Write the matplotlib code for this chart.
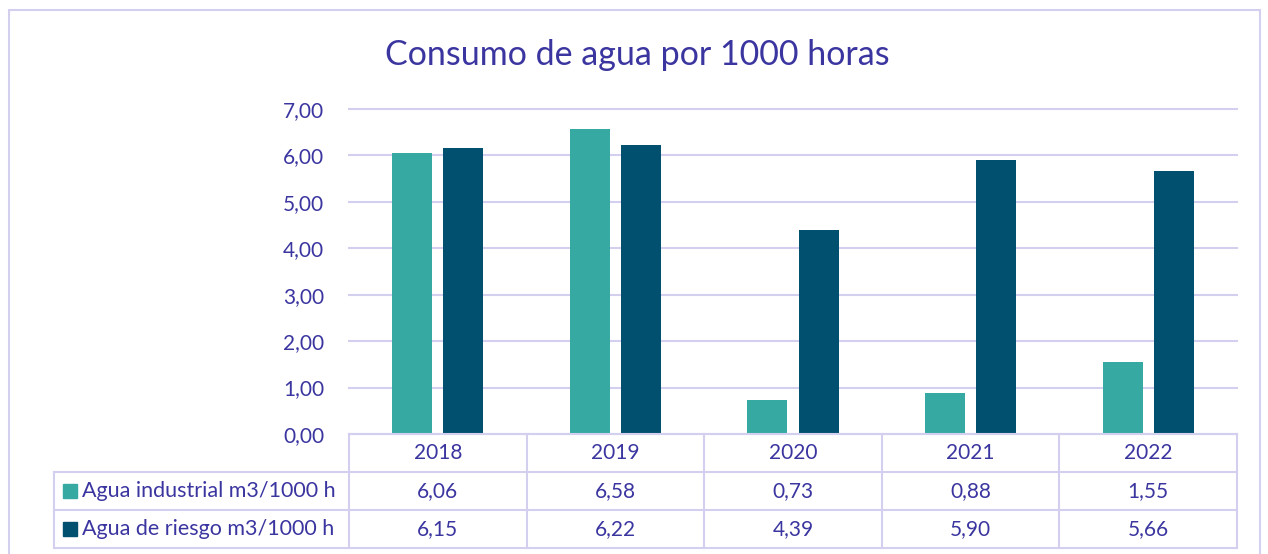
import matplotlib
matplotlib.use("Agg")
import matplotlib.pyplot as plt
from matplotlib.lines import Line2D
from matplotlib.patches import Rectangle

years = ["2018", "2019", "2020", "2021", "2022"]
industrial = [6.06, 6.58, 0.73, 0.88, 1.55]
riego = [6.15, 6.22, 4.39, 5.90, 5.66]
series_names = ["Agua industrial m3/1000 h", "Agua de riesgo m3/1000 h"]
yticks = [0, 1, 2, 3, 4, 5, 6, 7]
title = "Consumo de agua por 1000 horas"

TEAL = "#36AAA2"
DARK = "#02506F"
TXT = "#3B35A0"
GRID = "#D3CFEF"

plt.rcParams['font.family'] = ['Lato', 'DejaVu Sans']

W, H = 1268, 554
fig = plt.figure(figsize=(W / 100, H / 100), dpi=100)

def fx(px):
    return px / W

def fy(py):
    return 1 - py / H

# outer frame
fig.add_artist(Rectangle((fx(9), fy(560)), fx(1251), fy(10) - fy(560),
                         transform=fig.transFigure, fill=False,
                         edgecolor=GRID, lw=1.5))

L, R, T, B = 349, 1237, 109, 434
ax = fig.add_axes([fx(L), fy(B), fx(R) - fx(L), fy(T) - fy(B)])
ax.set_xlim(-0.5, 4.5)
ax.set_ylim(0, 7)

x = range(len(years))
bw = 0.225
off = 0.144
ax.bar([i - off for i in x], industrial, width=bw, color=TEAL, zorder=3)
ax.bar([i + off for i in x], riego, width=bw, color=DARK, zorder=3)

for s in ax.spines.values():
    s.set_visible(False)
ax.set_xticks([])
ax.set_yticks(yticks)
ax.set_yticklabels([f"{v:.2f}".replace(".", ",") for v in yticks],
                   color=TXT, fontsize=15)
ax.tick_params(axis='y', length=0, pad=18)

for v in yticks:
    ax.plot([-0.5, 4.5], [v, v], color=GRID, lw=1.5, zorder=1,
            clip_on=False)

fig.text(fx(637), fy(55), title, ha='center', va='center', color=TXT,
         fontsize=24.5)

# data table
rows_y = [434, 472, 510, 548]
colw = (R - L) / 5
LEG_L = 54

def hline(x0, x1, y):
    fig.add_artist(Line2D([fx(x0), fx(x1)], [fy(y), fy(y)],
                          transform=fig.transFigure, color=GRID, lw=1.5))

def vline(x, y0, y1):
    fig.add_artist(Line2D([fx(x), fx(x)], [fy(y0), fy(y1)],
                          transform=fig.transFigure, color=GRID, lw=1.5))

hline(L, R, rows_y[0])
for yy in rows_y[1:]:
    hline(LEG_L, R, yy)
vline(LEG_L, rows_y[1], rows_y[3])
for k in range(6):
    vline(L + k * colw, rows_y[0], rows_y[3])

def cy(r):
    return fy((rows_y[r] + rows_y[r + 1]) / 2)

for k, yr in enumerate(years):
    cx = fx(L + (k + 0.5) * colw)
    fig.text(cx, cy(0), yr, ha='center', va='center', color=TXT,
             fontsize=15)
    fig.text(cx, cy(1), f"{industrial[k]:.2f}".replace(".", ","),
             ha='center', va='center', color=TXT, fontsize=15)
    fig.text(cx, cy(2), f"{riego[k]:.2f}".replace(".", ","),
             ha='center', va='center', color=TXT, fontsize=15)

for r, (name, col) in enumerate(zip(series_names, [TEAL, DARK])):
    yc = (rows_y[r + 1] + rows_y[r + 2]) / 2
    fig.add_artist(Rectangle((fx(63), fy(yc + 7)), fx(14), fy(yc - 7) - fy(yc + 7),
                             transform=fig.transFigure, color=col))
    fig.text(fx(82), fy(yc), name, ha='left', va='center', color=TXT,
             fontsize=15.5)

fig.savefig("out.png", dpi=100, facecolor="white")
